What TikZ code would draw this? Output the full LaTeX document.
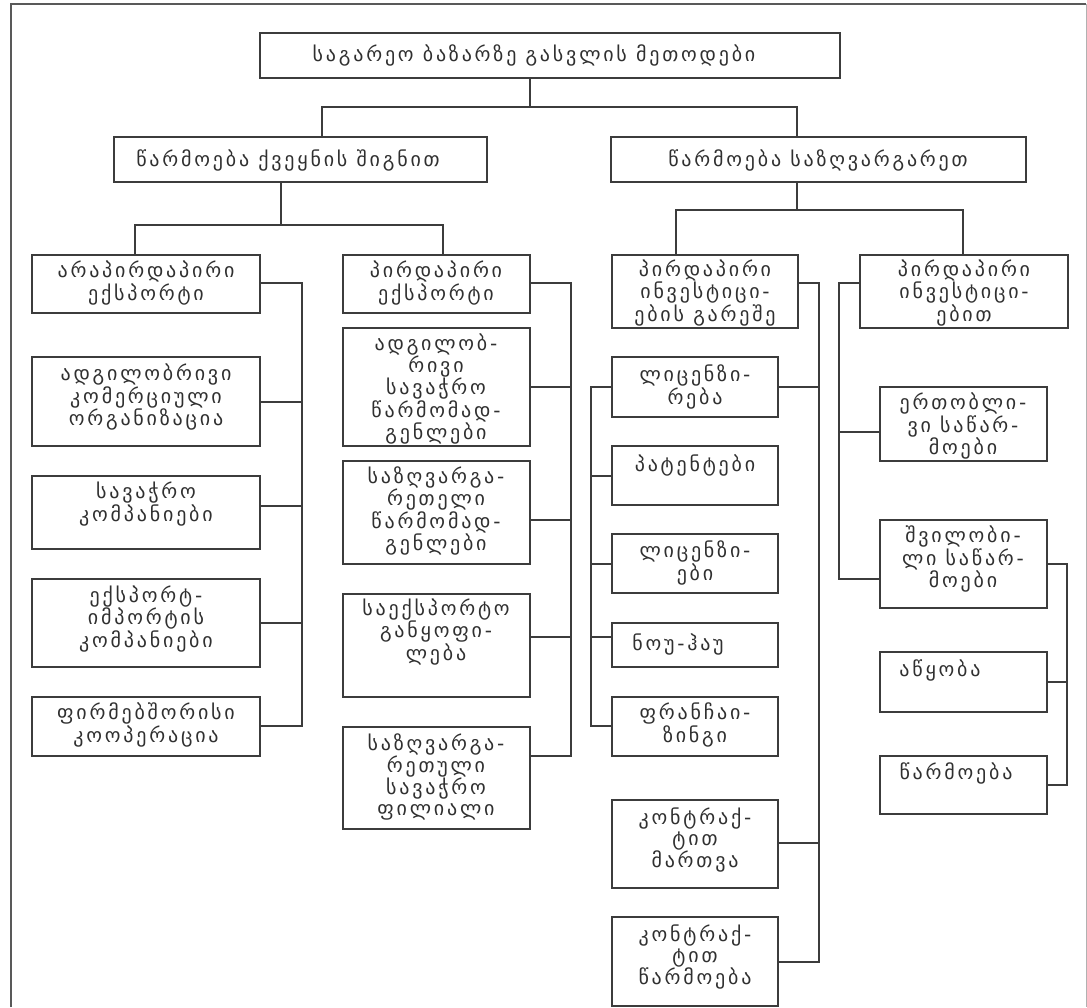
\documentclass[tikz,border=0pt]{standalone}
\usepackage{fontspec}
\newfontfamily\geo[LetterSpace=14]{DejaVu Sans}
\definecolor{linec}{HTML}{3C3C3C}
\definecolor{txtc}{HTML}{303030}
\newcommand\bx[8]{%
  \node[box, minimum width={#4-#2}, minimum height={#5-#3}] (#1) at (#2,#3) {};
  \node[txt] (#1t) at (#6,#7) {#8};}
\begin{document}
\begin{tikzpicture}[x=1pt,y=-1pt,
  box/.style={draw=linec, line width=1.3pt, inner sep=0pt, outer sep=0pt, anchor=north west},
  txt/.style={align=center, text=txtc, font=\geo\fontsize{20}{21}\selectfont, inner sep=0pt},
  con/.style={draw=linec, line width=1.3pt}]
\useasboundingbox (0,0) rectangle (1087,1007);
% frame
\draw[linec!85, line width=1.3pt] (11,1007) -- (11,4) -- (1086,4);
\draw[linec!40, line width=1pt] (1086,4) -- (1086,1007);
% top levels
\bx{top}{260}{33}{840}{78}{534}{55}{საგარეო ბაზარზე გასვლის მეთოდები}
\bx{la}{114}{137}{487}{182}{288}{160}{წარმოება ქვეყნის შიგნით}
\bx{lb}{611}{137}{1026}{182}{818}{160}{წარმოება საზღვარგარეთ}
% column A
\bx{a1}{32}{255}{260}{313}{146}{283}{არაპირდაპირი\\ექსპორტი}
\bx{a2}{32}{357}{260}{446}{146}{397}{ადგილობრივი\\კომერციული\\ორგანიზაცია}
\bx{a3}{32}{476}{260}{549}{146}{504}{სავაჭრო\\კომპანიები}
\bx{a4}{32}{579}{260}{667}{146}{619}{ექსპორტ-\\იმპორტის\\კომპანიები}
\bx{a5}{32}{697}{260}{756}{146}{725}{ფირმებშორისი\\კოოპერაცია}
% column B
\bx{b1}{343}{255}{530}{313}{436}{283}{პირდაპირი\\ექსპორტი}
\bx{b2}{343}{328}{530}{446}{436}{389}{ადგილობ-\\რივი\\სავაჭრო\\წარმომად-\\გენლები}
\bx{b3}{343}{461}{530}{564}{436}{511}{საზღვარგა-\\რეთელი\\წარმომად-\\გენლები}
\bx{b4}{343}{594}{530}{697}{436}{632}{საექსპორტო\\განყოფი-\\ლება}
\bx{b5}{343}{727}{530}{829}{436}{777}{საზღვარგა-\\რეთული\\სავაჭრო\\ფილიალი}
% column C
\bx{c1}{612}{255}{798}{328}{705}{293}{პირდაპირი\\ინვესტიცი-\\ების გარეშე}
\bx{c2}{612}{357}{778}{417}{695}{387}{ლიცენზი-\\რება}
\bx{c3}{612}{446}{778}{505}{695}{465}{პატენტები}
\bx{c4}{612}{534}{778}{593}{695}{563}{ლიცენზი-\\ები}
\bx{c5}{612}{623}{778}{667}{678}{644}{ნოუ-ჰაუ}
\bx{c6}{612}{697}{778}{756}{695}{725}{ფრანჩაი-\\ზინგი}
\bx{c7}{612}{800}{778}{888}{695}{840}{კონტრაქ-\\ტით\\მართვა}
\bx{c8}{612}{917}{778}{1006}{695}{957}{კონტრაქ-\\ტით\\წარმოება}
% column D
\bx{d1}{860}{255}{1068}{328}{964}{293}{პირდაპირი\\ინვესტიცი-\\ებით}
\bx{d2}{880}{387}{1047}{461}{963}{426}{ერთობლი-\\ვი საწარ-\\მოები}
\bx{d3}{880}{520}{1047}{608}{963}{559}{შვილობი-\\ლი საწარ-\\მოები}
\bx{d4}{880}{652}{1047}{712}{940}{670}{აწყობა}
\bx{d5}{880}{756}{1047}{814}{956}{773}{წარმოება}
% junction coordinates
\coordinate (t1) at (530,107); \coordinate (t2) at (322,107); \coordinate (t3) at (797,107);
\coordinate (u1) at (281,225); \coordinate (u2) at (135,225); \coordinate (u3) at (443,225);
\coordinate (v1) at (797,210); \coordinate (v2) at (676,210); \coordinate (v3) at (963,210);
\coordinate (ja1) at (302,283); \coordinate (ja2) at (302,402); \coordinate (ja3) at (302,506);
\coordinate (ja4) at (302,623); \coordinate (ja5) at (302,726);
\coordinate (jb1) at (571,283); \coordinate (jb2) at (571,387); \coordinate (jb3) at (571,520);
\coordinate (jb4) at (571,637); \coordinate (jb5) at (571,756);
\coordinate (jc1) at (819,283); \coordinate (jc2) at (819,387); \coordinate (jc7) at (819,843);
\coordinate (jc8) at (819,962);
\coordinate (kc2) at (591,387); \coordinate (kc3) at (591,476); \coordinate (kc4) at (591,564);
\coordinate (kc5) at (591,637); \coordinate (kc6) at (591,726);
\coordinate (jd1) at (839,283); \coordinate (jd2) at (839,432); \coordinate (jd3) at (839,579);
\coordinate (kd3) at (1067,564); \coordinate (kd4) at (1067,682); \coordinate (kd5) at (1067,785);
% connectors
\draw[con] (top.south -| t1) -- (t1);
\draw[con] (la.north -| t2) -- (t2) -- (t3) -- (lb.north -| t3);
\draw[con] (la.south -| u1) -- (u1);
\draw[con] (a1.north -| u2) -- (u2) -- (u3) -- (b1.north -| u3);
\draw[con] (lb.south -| v1) -- (v1);
\draw[con] (c1.north -| v2) -- (v2) -- (v3) -- (d1.north -| v3);
% A bus
\draw[con] (a1.east |- ja1) -- (ja1) -- (ja5) -- (a5.east |- ja5);
\draw[con] (ja2) -- (a2.east |- ja2);
\draw[con] (ja3) -- (a3.east |- ja3);
\draw[con] (ja4) -- (a4.east |- ja4);
% B bus
\draw[con] (b1.east |- jb1) -- (jb1) -- (jb5) -- (b5.east |- jb5);
\draw[con] (jb2) -- (b2.east |- jb2);
\draw[con] (jb3) -- (b3.east |- jb3);
\draw[con] (jb4) -- (b4.east |- jb4);
% C right bus
\draw[con] (c1.east |- jc1) -- (jc1) -- (jc8) -- (c8.east |- jc8);
\draw[con] (jc2) -- (c2.east |- jc2);
\draw[con] (jc7) -- (c7.east |- jc7);
% C left bus
\draw[con] (c2.west |- kc2) -- (kc2) -- (kc6) -- (c6.west |- kc6);
\draw[con] (kc3) -- (c3.west |- kc3);
\draw[con] (kc4) -- (c4.west |- kc4);
\draw[con] (kc5) -- (c5.west |- kc5);
% D left bus
\draw[con] (d1.west |- jd1) -- (jd1) -- (jd3) -- (d3.west |- jd3);
\draw[con] (jd2) -- (d2.west |- jd2);
% D right bus
\draw[con] (d3.east |- kd3) -- (kd3) -- (kd5) -- (d5.east |- kd5);
\draw[con] (kd4) -- (d4.east |- kd4);
\end{tikzpicture}
\end{document}
